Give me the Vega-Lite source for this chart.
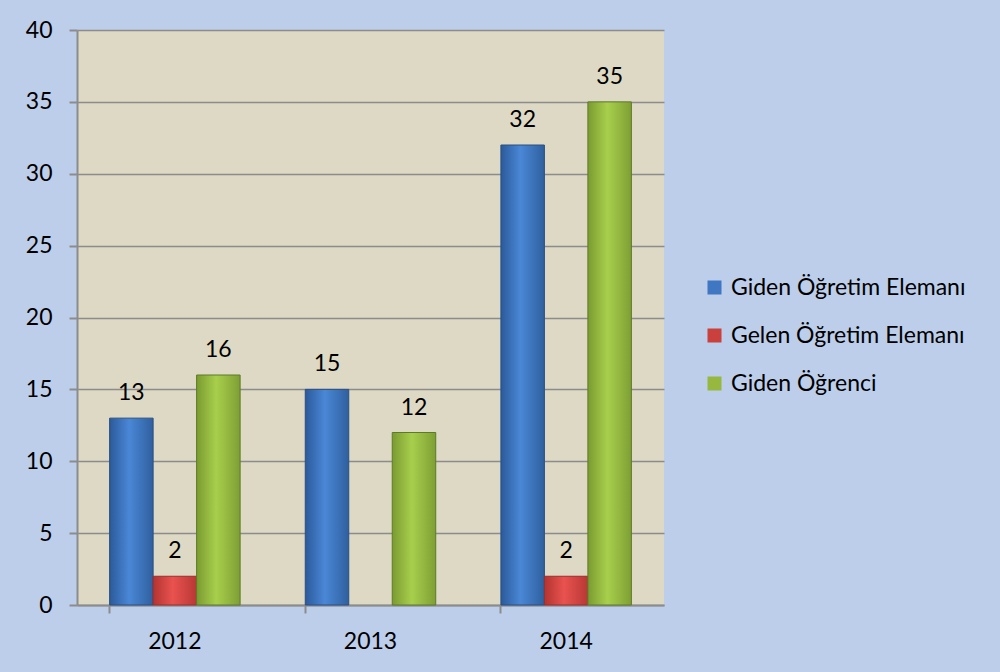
{
  "$schema": "https://vega.github.io/schema/vega-lite/v6.json",
  "width": 587,
  "height": 575,
  "autosize": {"type": "none"},
  "padding": {"left": 77, "top": 30, "right": 336, "bottom": 67},
  "background": "#BDCEEB",
  "config": {
    "view": {"fill": "#DDD9C4", "stroke": null},
    "font": "Lato",
    "axis": {"labelFont": "Lato", "labelFontSize": 23, "labelColor": "#000000", "titleFontSize": 0}
  },
  "data": {
    "values": [
      {"year": "2012", "series": "Giden Öğretim Elemanı", "value": 13},
      {"year": "2012", "series": "Gelen Öğretim Elemanı", "value": 2},
      {"year": "2012", "series": "Giden Öğrenci", "value": 16},
      {"year": "2013", "series": "Giden Öğretim Elemanı", "value": 15},
      {"year": "2013", "series": "Giden Öğrenci", "value": 12},
      {"year": "2014", "series": "Giden Öğretim Elemanı", "value": 32},
      {"year": "2014", "series": "Gelen Öğretim Elemanı", "value": 2},
      {"year": "2014", "series": "Giden Öğrenci", "value": 35}
    ]
  },
  "encoding": {
    "x": {
      "field": "year", "type": "nominal", "title": null,
      "scale": {"paddingInner": 0.333, "paddingOuter": 0.1667},
      "axis": {
        "labelAngle": 0, "bandPosition": 0, "labelPadding": 17,
        "domainColor": "#8C8C8C", "domainWidth": 2,
        "tickColor": "#8C8C8C", "tickWidth": 2, "tickSize": 8,
        "grid": false
      }
    },
    "xOffset": {
      "field": "series", "type": "nominal",
      "scale": {"domain": ["Giden Öğretim Elemanı", "Gelen Öğretim Elemanı", "Giden Öğrenci"], "paddingInner": 0, "paddingOuter": 0}
    },
    "y": {
      "field": "value", "type": "quantitative", "title": null,
      "scale": {"domain": [0, 40], "nice": false},
      "axis": {
        "values": [0, 5, 10, 15, 20, 25, 30, 35, 40],
        "labelPadding": 17,
        "domainColor": "#8C8C8C", "domainWidth": 2,
        "tickColor": "#8C8C8C", "tickWidth": 2, "tickSize": 8,
        "grid": true, "gridColor": "#8C8C8C", "gridWidth": 1.5
      }
    }
  },
  "layer": [
    {
      "transform": [{"filter": "datum.series === 'Giden Öğretim Elemanı'"}],
      "mark": {
        "type": "bar",
        "fill": {"gradient": "linear", "x1": 0, "y1": 0, "x2": 1, "y2": 0,
          "stops": [{"offset": 0, "color": "#2B5A9A"}, {"offset": 0.45, "color": "#4A87D6"}, {"offset": 1, "color": "#2F609F"}]},
        "stroke": "#2A4F82", "strokeWidth": 1
      },
      "encoding": {
        "color": {
          "field": "series", "type": "nominal",
          "scale": {"domain": ["Giden Öğretim Elemanı", "Gelen Öğretim Elemanı", "Giden Öğrenci"], "range": ["#3F77C3", "#C9403D", "#97B83E"]},
          "legend": {
            "title": null, "orient": "none", "legendX": 626, "legendY": 246,
            "symbolType": "square", "symbolSize": 196, "symbolStrokeWidth": 0,
            "labelFont": "Lato", "labelFontSize": 23, "labelColor": "#000000",
            "labelOffset": 5, "labelLimit": 400, "rowPadding": 24, "padding": 0
          }
        }
      }
    },
    {
      "transform": [{"filter": "datum.series === 'Gelen Öğretim Elemanı'"}],
      "mark": {
        "type": "bar",
        "fill": {"gradient": "linear", "x1": 0, "y1": 0, "x2": 1, "y2": 0,
          "stops": [{"offset": 0, "color": "#B23431"}, {"offset": 0.45, "color": "#E9524F"}, {"offset": 1, "color": "#B83835"}]},
        "stroke": "#9A2E2C", "strokeWidth": 1
      },
      "encoding": {
        "color": {"field": "series", "type": "nominal"}
      }
    },
    {
      "transform": [{"filter": "datum.series === 'Giden Öğrenci'"}],
      "mark": {
        "type": "bar",
        "fill": {"gradient": "linear", "x1": 0, "y1": 0, "x2": 1, "y2": 0,
          "stops": [{"offset": 0, "color": "#7A9B31"}, {"offset": 0.45, "color": "#A8CF4C"}, {"offset": 1, "color": "#7E9F34"}]},
        "stroke": "#5F7A26", "strokeWidth": 1
      },
      "encoding": {
        "color": {"field": "series", "type": "nominal"}
      }
    },
    {
      "mark": {"type": "text", "baseline": "alphabetic", "dy": -18, "fontSize": 23, "font": "Lato", "color": "#000000"},
      "encoding": {
        "text": {"field": "value", "type": "quantitative"}
      }
    }
  ]
}
